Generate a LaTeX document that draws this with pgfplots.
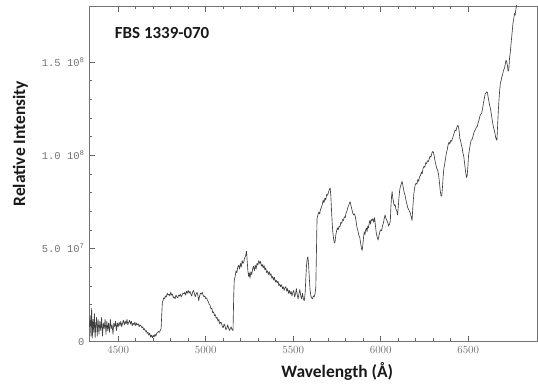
\documentclass[border=0pt]{standalone}
\usepackage{pgfplots}
\pgfplotsset{compat=1.18}
\usepackage{fontspec}
\setmainfont{Carlito}
\newfontfamily\monofont{Liberation Mono}

% Spectrum of FBS 1339-070: wavelength (Angstrom) vs relative intensity (units of 1e7)
\pgfplotstableread{
lam   flux
4336  0.8
4340  1.4
4344  0.3
4348  1.8
4352  0.2
4356  1.2
4360  0.5
4364  1.5
4368  0.2
4372  0.9
4376  1.3
4380  0.3
4385  1.2
4390  0.4
4395  1.1
4400  0.6
4405  1.3
4410  0.3
4415  1.0
4420  0.7
4425  1.2
4430  0.4
4435  1.1
4440  0.6
4445  1.0
4450  0.5
4455  1.2
4460  0.7
4465  0.9
4470  0.4
4475  1.0
4480  0.8
4485  1.1
4490  0.6
4495  1.0
4500  0.8
4505  1.05
4510  0.85
4515  1.1
4520  0.8
4525  1.0
4530  1.15
4535  0.9
4540  1.1
4545  0.95
4550  1.2
4555  0.9
4560  1.05
4565  1.15
4570  0.95
4575  1.1
4580  0.85
4585  1.0
4590  0.9
4595  1.05
4600  0.85
4605  1.0
4610  0.9
4615  0.95
4620  0.8
4625  0.9
4630  0.85
4635  0.75
4640  0.8
4645  0.65
4650  0.7
4655  0.55
4660  0.6
4665  0.45
4670  0.5
4675  0.35
4680  0.45
4685  0.25
4690  0.35
4695  0.2
4700  0.35
4705  0.25
4710  0.4
4715  0.3
4720  0.45
4725  0.5
4730  0.55
4735  0.5
4740  0.6
4745  0.7
4749  1.5
4752  2.1
4756  2.2
4760  2.35
4765  2.3
4770  2.45
4775  2.4
4780  2.6
4785  2.5
4790  2.55
4795  2.45
4800  2.65
4805  2.5
4810  2.55
4815  2.35
4820  2.4
4825  2.3
4830  2.5
4835  2.4
4840  2.35
4845  2.5
4850  2.45
4855  2.55
4860  2.4
4865  2.5
4870  2.6
4875  2.55
4880  2.65
4885  2.5
4890  2.7
4895  2.6
4900  2.75
4905  2.6
4910  2.7
4915  2.55
4920  2.45
4925  2.65
4930  2.75
4935  2.6
4940  2.4
4945  2.55
4950  2.65
4955  2.5
4960  2.2
4965  2.45
4970  2.6
4975  2.55
4980  2.65
4985  2.5
4990  2.4
4995  2.45
5000  2.3
5005  2.35
5010  2.2
5015  2.15
5020  2.0
5025  1.95
5030  1.75
5035  1.8
5040  1.55
5045  1.6
5050  1.4
5055  1.45
5060  1.25
5065  1.3
5070  1.1
5075  1.2
5080  0.95
5085  1.05
5090  1.0
5095  0.8
5100  0.75
5105  0.95
5110  0.85
5115  0.65
5120  0.7
5125  0.9
5130  0.75
5135  0.6
5140  0.7
5145  0.8
5150  0.65
5156  0.6
5160  2.5
5163  3.3
5168  3.5
5173  3.8
5178  3.7
5183  4.0
5188  4.1
5193  3.9
5198  4.2
5203  4.0
5208  4.35
5213  4.2
5218  4.3
5223  4.5
5228  4.6
5233  4.85
5237  4.3
5241  3.8
5245  3.5
5249  3.7
5253  3.4
5258  3.75
5263  3.6
5268  3.9
5273  4.05
5278  3.8
5283  4.1
5288  3.9
5293  4.2
5298  4.1
5303  4.35
5308  4.2
5313  4.3
5318  4.05
5323  4.15
5328  3.95
5333  4.1
5338  3.85
5343  3.95
5348  3.7
5353  3.8
5358  3.6
5363  3.75
5368  3.55
5373  3.65
5378  3.4
5383  3.5
5388  3.3
5393  3.45
5398  3.2
5403  3.3
5408  3.15
5413  3.25
5418  3.0
5423  3.1
5428  2.95
5433  3.05
5438  2.85
5443  2.95
5448  2.75
5453  2.9
5458  2.95
5463  2.7
5468  2.85
5473  2.6
5478  2.75
5483  2.55
5488  2.7
5493  2.45
5498  2.65
5503  2.75
5508  2.4
5513  2.55
5518  2.85
5523  2.5
5528  2.3
5533  2.6
5538  2.8
5543  2.45
5548  2.3
5553  2.6
5558  2.3
5563  2.2
5568  2.6
5572  3.4
5576  4.1
5580  4.45
5584  4.55
5588  4.1
5592  3.4
5596  2.8
5600  2.5
5605  2.35
5610  2.3
5615  2.45
5620  2.4
5625  2.6
5629  2.9
5633  5.0
5636  6.6
5641  6.8
5646  6.95
5651  6.85
5656  7.1
5661  7.2
5666  7.35
5671  7.6
5676  7.45
5681  7.7
5686  7.6
5691  7.9
5696  7.85
5701  8.0
5706  8.15
5711  8.25
5715  7.8
5719  7.0
5723  6.3
5727  5.8
5731  5.5
5735  5.3
5739  5.35
5743  5.7
5747  5.9
5752  6.1
5757  6.0
5762  6.2
5767  6.15
5772  6.4
5777  6.35
5782  6.55
5787  6.5
5792  6.7
5797  6.65
5802  6.9
5807  7.0
5812  7.2
5817  7.3
5822  7.45
5826  7.5
5830  7.3
5835  7.1
5840  6.9
5845  6.8
5850  6.85
5855  6.7
5860  6.4
5865  6.1
5870  5.95
5875  5.7
5880  5.6
5885  5.3
5890  5.0
5894  4.9
5898  5.2
5902  5.6
5906  5.9
5910  5.75
5914  6.0
5918  6.1
5922  5.9
5926  6.2
5930  6.1
5934  6.35
5938  6.5
5942  6.3
5946  6.55
5950  6.5
5955  6.6
5960  6.4
5965  6.65
5970  6.2
5975  5.8
5980  5.6
5985  5.45
5990  5.7
5995  5.9
6000  6.0
6005  5.95
6010  6.2
6015  6.35
6020  6.6
6025  6.8
6030  6.6
6035  6.5
6040  6.4
6045  6.2
6050  6.3
6055  6.5
6058  7.2
6062  7.8
6065  8.05
6069  7.7
6073  7.5
6077  7.3
6082  7.35
6087  7.1
6092  7.0
6096  6.8
6100  7.2
6104  7.7
6108  8.1
6112  8.3
6117  8.45
6122  8.6
6126  8.4
6130  8.2
6134  8.0
6139  7.85
6144  7.6
6149  7.4
6154  7.2
6159  7.1
6164  7.0
6169  6.9
6174  6.7
6179  6.5
6184  7.3
6189  7.9
6193  8.2
6197  8.4
6202  8.5
6207  8.45
6212  8.7
6217  8.6
6222  8.85
6227  8.9
6232  9.1
6237  9.0
6242  9.3
6247  9.4
6252  9.35
6257  9.6
6262  9.55
6267  9.7
6272  9.65
6277  9.8
6282  9.95
6287  9.9
6292  10.1
6297  10.2
6301  10.15
6305  10.0
6310  9.7
6315  9.5
6320  9.3
6325  9.2
6330  9.0
6335  8.6
6340  8.1
6345  7.8
6349  7.85
6353  8.3
6357  8.9
6361  9.3
6365  9.5
6370  9.8
6375  10.1
6380  10.3
6385  10.55
6390  10.7
6395  10.6
6400  10.8
6405  10.75
6410  10.9
6415  11.05
6420  11.2
6425  11.35
6430  11.3
6435  11.5
6440  11.6
6444  11.55
6448  11.3
6452  10.9
6456  10.8
6460  10.6
6465  10.4
6470  10.1
6475  9.9
6480  9.5
6485  9.1
6490  8.8
6494  8.9
6498  9.4
6502  10.0
6507  10.3
6512  10.6
6517  10.8
6522  10.85
6527  11.0
6532  11.2
6537  11.3
6542  11.4
6547  11.5
6552  11.55
6557  11.75
6562  11.9
6567  12.1
6572  12.2
6577  12.25
6582  12.5
6587  12.8
6592  13.05
6597  13.3
6602  13.35
6606  13.4
6610  13.35
6614  13.1
6618  12.9
6622  12.7
6627  12.5
6632  12.2
6637  11.9
6642  11.6
6647  11.4
6652  11.2
6656  11.0
6660  10.85
6664  10.8
6668  11.6
6672  12.4
6676  13.0
6680  13.5
6684  13.9
6688  14.0
6692  14.2
6696  14.3
6700  14.5
6704  14.6
6708  14.7
6712  14.9
6716  15.1
6720  15.0
6724  14.8
6728  14.5
6732  14.6
6736  15.2
6740  15.5
6744  15.9
6748  16.3
6752  16.7
6756  17.1
6760  17.3
6764  17.6
6768  17.5
6772  17.8
6776  18.0
6780  18.3
6785  18.6
6790  18.9
}\spectrum

\begin{document}
\begin{tikzpicture}
\begin{axis}[
  scale only axis,
  width=448bp, height=335.7bp,
  xmin=4333, xmax=6893,
  ymin=0, ymax=18,
  xtick={4500,5000,5500,6000,6500},
  xticklabel style={/pgf/number format/1000 sep={}},
  minor x tick num=4,
  ytick={0,5,10,15},
  yticklabels={0, 5.0 10\textsuperscript{7}, 1.0 10\textsuperscript{8}, 1.5 10\textsuperscript{8}},
  minor y tick num=4,
  xtick pos=both,
  ytick pos=left,
  tick align=inside,
  major tick length=6bp,
  minor tick length=3.5bp,
  every tick/.style={black!60, line width=0.5pt},
  axis line style={black!55, line width=0.6pt},
  tick label style={font=\monofont\fontsize{10.5}{12}\selectfont, text=black!55},
  x tick label style={yshift=-1bp},
  y tick label style={xshift=-1bp},
  xlabel={Wavelength (Å)},
  ylabel={Relative Intensity},
  label style={font=\bfseries\fontsize{17.5}{20}\selectfont, text=black!90},
  xlabel style={at={(axis description cs:0.554,-0.088)}, anchor=center},
  ylabel style={at={(axis description cs:-0.153,0.59)}, anchor=center},
  clip=true,
]
\addplot[black!75, line width=0.65pt, line join=round] table[x=lam, y=flux] {\spectrum};
\node[anchor=west, font=\bfseries\fontsize{17}{20}\selectfont, text=black!90]
  at (rel axis cs:0.05,0.92) {FBS 1339-070};
\coordinate (sw) at (rel axis cs:0,0);
\end{axis}
\pgfresetboundingbox
\path[use as bounding box] (sw) ++(-89bp,-43.3bp) rectangle ++(538bp,385bp);
\end{tikzpicture}
\end{document}
